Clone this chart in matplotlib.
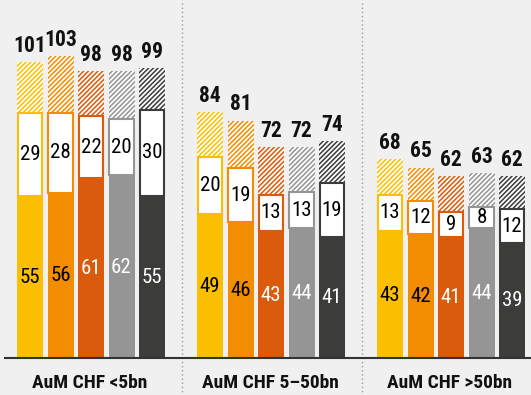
import numpy as np
import matplotlib.pyplot as plt

groups = ["AuM CHF <5bn", "AuM CHF 5\u201350bn", "AuM CHF >50bn"]
totals = [[101, 103, 98, 98, 99],
          [84, 81, 72, 72, 74],
          [68, 65, 62, 63, 62]]
bottom_vals = [[55, 56, 61, 62, 55],
               [49, 46, 43, 44, 41],
               [43, 42, 41, 44, 39]]
middle_vals = [[29, 28, 22, 20, 30],
               [20, 19, 13, 13, 19],
               [13, 12, 9, 8, 12]]

colors = ["#fbbf00", "#f28c00", "#da5b0b", "#959595", "#3c3c3b"]
inner_text = ["black", "black", "white", "white", "white"]

plt.rcParams["font.family"] = ["Roboto Condensed", "DejaVu Sans"]
plt.rcParams["hatch.linewidth"] = 1.3
plt.rcParams["hatch.color"] = "white"

bg = "#f0f0f0"
fig = plt.figure(figsize=(5.31, 3.95), dpi=100, facecolor=bg)
ax = fig.add_axes([0, 37 / 395, 1, 358 / 395])
ax.set_facecolor(bg)
ax.set_xlim(0, 531)
ax.set_ylim(0, 122.2)
ax.axis("off")

width = 26
for g in range(3):
    for i in range(5):
        x = 30 + 180 * g + 30.5 * i
        b = bottom_vals[g][i]
        m = middle_vals[g][i]
        t = totals[g][i]
        c = colors[i]
        ax.bar(x, b, width=width, color=c, linewidth=0)
        ax.bar(x, t - b - m, bottom=b + m, width=width, color=c,
               hatch="///////", edgecolor="white", linewidth=0)
        ax.bar(x, m - 0.6, bottom=b + 0.3, width=width - 1.8, color="white",
               edgecolor=c, linewidth=1.5)
        ax.text(x, b / 2, str(b), ha="center", va="center", fontsize=15,
                color=inner_text[i])
        ax.text(x, b + m / 2, str(m), ha="center", va="center", fontsize=15,
                color="black")
        ax.text(x, t + 1.8, str(t), ha="center", va="bottom", fontsize=15.5,
                fontweight="bold", color="#111111")
    ax.text(90 + 180 * g, -8.5, groups[g], ha="center", va="center",
            fontsize=14, fontweight="bold", color="#111111")

for xd in [181.5, 362]:
    ax.axvline(xd, ymin=-0.13, ymax=1, color="#999999", linestyle=(0, (1, 2)),
               linewidth=1, clip_on=False)

ax.plot([5, 531], [0, 0], color="#333333", linewidth=1.5, clip_on=False)

fig.savefig("out.png", dpi=100, facecolor=bg)
